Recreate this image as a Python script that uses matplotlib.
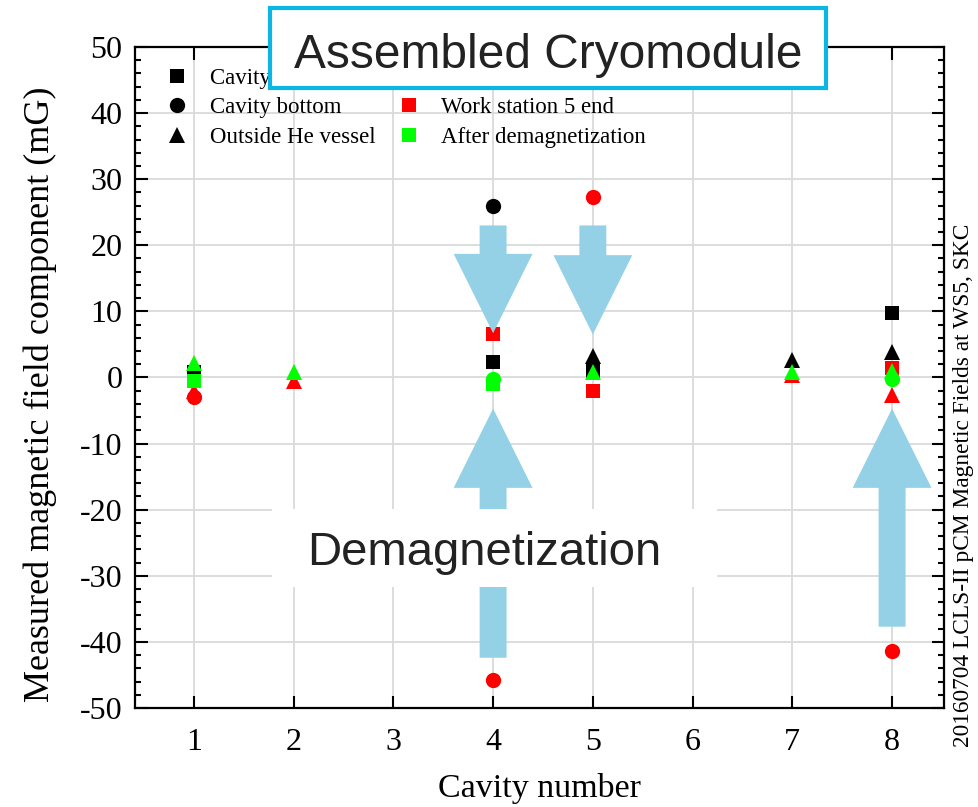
import numpy as np
import matplotlib
matplotlib.use('Agg')
import matplotlib.pyplot as plt
from matplotlib.lines import Line2D
from matplotlib.patches import FancyArrow, Rectangle
from matplotlib.ticker import MultipleLocator

nan = np.nan
cavity = [1, 2, 4, 5, 7, 8]

# black: before work station 5
top_start = [0.8, nan, 2.3, 1.0, nan, 9.8]
bottom_start = [nan, nan, 26.0, nan, nan, nan]
vessel_start = [nan, nan, nan, 3.2, 2.6, 3.9]

# red: work station 5 end
top_ws5 = [nan, nan, 6.6, -2.0, nan, 1.5]
bottom_ws5 = [-3.0, nan, -45.7, 27.3, nan, -41.4]
vessel_ws5 = [-2.1, -0.6, nan, nan, 0.3, -2.7]

# green: after demagnetization
top_demag = [-0.6, nan, -1.0, nan, nan, nan]
bottom_demag = [nan, nan, -0.3, nan, nan, -0.2]
vessel_demag = [2.2, 0.8, nan, 0.8, 0.8, 1.0]

# demagnetization arrows: (cavity, tail, tip)
down_arrows = [(4, 23.0, 6.7), (5, 23.0, 6.5)]
up_arrows = [(4, -42.4, -4.7), (8, -37.7, -4.7)]

serif = 'Liberation Serif'
sans = 'Liberation Sans'
arrow_color = '#94d1e6'

plt.rcParams['axes.unicode_minus'] = False
plt.rcParams['font.family'] = serif

fig = plt.figure(figsize=(9.79, 8.07), dpi=100)
ax = fig.add_axes([0.1379, 0.1227, 0.8263, 0.8191])

ax.set_xlim(0.41, 8.52)
ax.set_ylim(-50, 50)
ax.xaxis.set_major_locator(MultipleLocator(1))
ax.yaxis.set_major_locator(MultipleLocator(10))
ax.yaxis.set_minor_locator(MultipleLocator(2))
ax.grid(True, which='major', color='#dadada', linewidth=1.3, zorder=0)
ax.set_axisbelow(True)

ax.tick_params(which='both', direction='in', top=True, right=True,
               labelsize=23, width=1.5)
ax.tick_params(which='major', length=9)
ax.tick_params(which='minor', length=4.5)
ax.tick_params(axis='y', pad=9)
ax.tick_params(axis='x', pad=14.5)
for s in ax.spines.values():
    s.set_linewidth(1.6)

ms = {'s': 10, 'o': 11, '^': 12}
groups = [
    ('black', [top_start, bottom_start, vessel_start]),
    ('#ff0000', [top_ws5, bottom_ws5, vessel_ws5]),
    ('#00ff00', [top_demag, bottom_demag, vessel_demag]),
]
for color, series in groups:
    for vals, mk in zip(series, ['s', 'o', '^']):
        ax.plot(cavity, vals, linestyle='none', marker=mk, markersize=ms[mk],
                color=color, markeredgewidth=0, zorder=3)

for x, tail, tip in down_arrows + up_arrows:
    ax.add_patch(FancyArrow(x, tail, 0, tip - tail, width=0.27,
                            head_width=0.79, head_length=12.0,
                            length_includes_head=True, color=arrow_color,
                            linewidth=0, zorder=4))

ax.set_xlabel('Cavity number', fontsize=24.5)
ax.xaxis.set_label_coords(0.5, -0.098)
ax.set_ylabel('Measured magnetic field component (mG)', fontsize=26)
ax.yaxis.set_label_coords(-0.097, 0.475)

handles = [
    Line2D([], [], ls='none', marker='s', ms=10, color='black', mew=0),
    Line2D([], [], ls='none', marker='o', ms=11, color='black', mew=0),
    Line2D([], [], ls='none', marker='^', ms=12, color='black', mew=0),
    Line2D([], [], ls='none', marker='s', ms=10, color='black', mew=0),
    Line2D([], [], ls='none', marker='s', ms=10, color='#ff0000', mew=0),
    Line2D([], [], ls='none', marker='s', ms=10, color='#00ff00', mew=0),
]
labels = ['Cavity top', 'Cavity bottom', 'Outside He vessel',
          '', 'Work station 5 end', 'After demagnetization']
leg = ax.legend(handles, labels, ncol=2, loc='upper left',
                bbox_to_anchor=(0.038, 0.968), frameon=False,
                prop={'family': serif, 'size': 16.5}, handlelength=1.0,
                handletextpad=0.92, columnspacing=0.95, labelspacing=0.36,
                borderpad=0, borderaxespad=0)
leg.set_zorder(6)

fig.text(0.9837, 0.399, '20160704 LCLS-II pCM Magnetic Fields at WS5, SKC',
         rotation=90, ha='center', va='center', fontsize=16.8)

W, H = 979, 807
# white label box over the arrows
fig.add_artist(Rectangle((272 / W, 1 - 587 / H), 445 / W, 78 / H,
                         transform=fig.transFigure, facecolor='white',
                         edgecolor='none', zorder=5))
fig.text(484.5 / W, 1 - 565 / H, 'Demagnetization', ha='center',
         va='baseline', family=sans, fontsize=34, color='#222222', zorder=6)

# title box
fig.add_artist(Rectangle((270 / W, 1 - 88 / H), 556 / W, 80 / H,
                         transform=fig.transFigure, facecolor='white',
                         edgecolor='#0ab6e4', linewidth=3.0, zorder=8))
fig.text(548 / W, 1 - 68 / H, 'Assembled Cryomodule', ha='center',
         va='baseline', family=sans, fontsize=34.5, color='#222222', zorder=9)

fig.savefig('out.png', dpi=100)
